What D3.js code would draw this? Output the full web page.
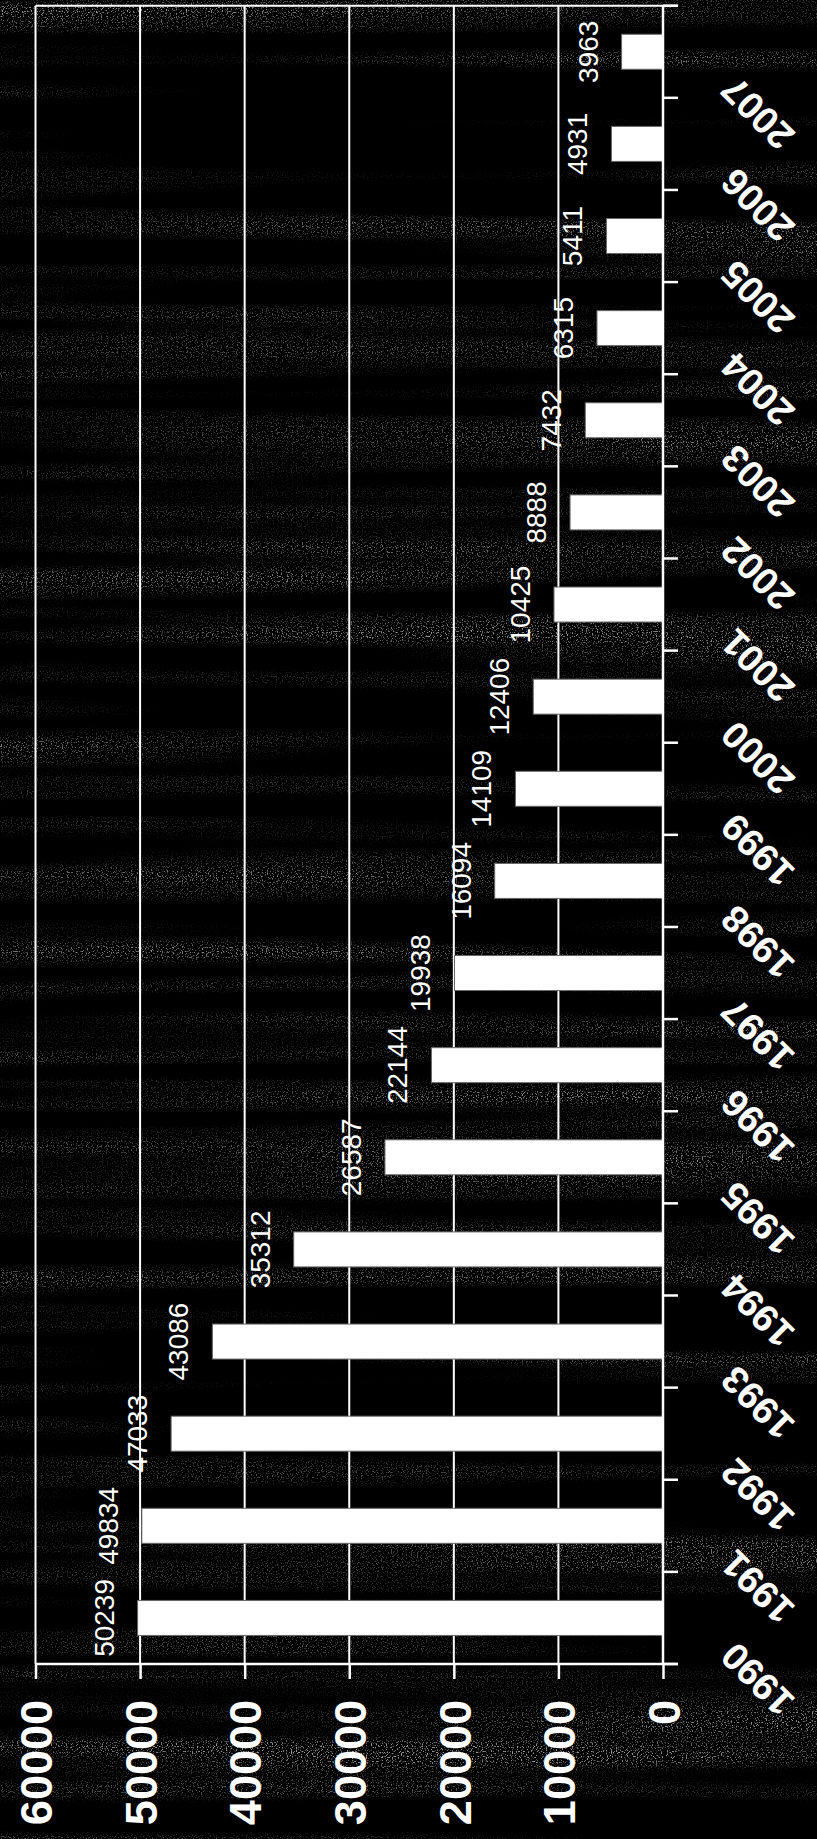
<html>
	<head>
		<script type="text/javascript" src="https://cdn.jsdelivr.net/npm/d3@7/dist/d3.min.js"></script>
		<style>
			body{
				margin:0;
				background:#000;
			}
			svg{
				display:block;
				font-family:"Liberation Sans", Arial, sans-serif;
			}
			.grid line{
				stroke:#fff;
				stroke-width:2;
			}
			.bar{
				fill:#fff;
				stroke:#666;
				stroke-width:1;
			}
			.val{
				fill:#fff;
				font-size:28px;
			}
			.axis path, .axis line{
				stroke:#fff;
				stroke-width:2.5;
			}
			.axis text{
				fill:#fff;
				font-weight:bold;
			}
		</style>
	</head>
	<body>
		<div id="container"></div>
		<script type="text/javascript">

			var years = ["1990","1991","1992","1993","1994","1995","1996","1997","1998",
				"1999","2000","2001","2002","2003","2004","2005","2006","2007"];
			var values = [50239, 49834, 47033, 43086, 35312, 26587, 22144, 19938, 16094,
				14109, 12406, 10425, 8888, 7432, 6315, 5411, 4931, 3963];
			var valueTicks = [0, 10000, 20000, 30000, 40000, 50000, 60000];

			var data = years.map(function(d, i){ return {year:d, value:values[i]}; });

			var svg = d3.select("#container")
				.append("svg")
					.attr("width", 817)
					.attr("height", 1839);

			// speckled scan background
			var defs = svg.append("defs");
			var f = defs.append("filter")
				.attr("id", "grain")
				.attr("x", 0).attr("y", 0).attr("width", 1).attr("height", 1)
				.attr("color-interpolation-filters", "sRGB");
			f.append("feTurbulence")
				.attr("type", "fractalNoise")
				.attr("baseFrequency", "0.0008 0.03")
				.attr("numOctaves", 2)
				.attr("seed", 4)
				.attr("result", "bandNoise");
			f.append("feColorMatrix")
				.attr("in", "bandNoise")
				.attr("type", "matrix")
				.attr("values", "0 0 0 0 1  0 0 0 0 1  0 0 0 0 1  3 0 0 0 -1.35")
				.attr("result", "band");
			f.append("feTurbulence")
				.attr("type", "fractalNoise")
				.attr("baseFrequency", "0.8")
				.attr("numOctaves", 1)
				.attr("seed", 9)
				.attr("result", "dotNoise");
			f.append("feColorMatrix")
				.attr("in", "dotNoise")
				.attr("type", "matrix")
				.attr("values", "0 0 0 0 1  0 0 0 0 1  0 0 0 0 1  8 0 0 0 -4.4")
				.attr("result", "dots");
			f.append("feComposite")
				.attr("in", "dots")
				.attr("in2", "band")
				.attr("operator", "arithmetic")
				.attr("k1", 1);

			svg.append("rect")
				.attr("width", 817)
				.attr("height", 1839)
				.attr("fill", "#000");
			svg.append("rect")
				.attr("width", 817)
				.attr("height", 1839)
				.attr("fill", "#fff")
				.attr("opacity", 0.6)
				.attr("filter", "url(#grain)");

			var plotTop = 5.7, plotBottom = 1664, plotLeft = 35.5, plotRight = 663;

			var x = d3.scaleLinear()
				.domain([0, 60000])
				.range([plotRight, plotLeft]);

			var y = d3.scaleBand()
				.domain(years)
				.range([plotBottom, plotTop])
				.paddingInner(0.62)
				.paddingOuter(0.31);

			var grid = svg.append("g").attr("class", "grid");
			grid.selectAll("line.v").data(valueTicks.slice(1)).enter().append("line")
				.attr("class", "v")
				.attr("x1", function(d){ return x(d); })
				.attr("x2", function(d){ return x(d); })
				.attr("y1", plotTop)
				.attr("y2", plotBottom);
			grid.append("line")
				.attr("x1", plotLeft).attr("x2", plotRight + 15)
				.attr("y1", plotTop).attr("y2", plotTop);

			svg.selectAll("rect.bar").data(data).enter().append("rect")
				.attr("class", "bar")
				.attr("x", function(d){ return x(d.value); })
				.attr("y", function(d){ return y(d.year); })
				.attr("width", function(d){ return x(0) - x(d.value); })
				.attr("height", y.bandwidth());

			svg.selectAll("text.val").data(data).enter().append("text")
				.attr("class", "val")
				.attr("text-anchor", "middle")
				.attr("transform", function(d){
					return "translate(" + (x(d.value) - 24) + "," + (y(d.year) + y.bandwidth()/2) + ") rotate(-90)";
				})
				.text(function(d){ return d.value; });

			// value axis along the bottom
			var xAxis = d3.axisBottom(x)
				.tickValues(valueTicks)
				.tickSize(15)
				.tickSizeOuter(0)
				.tickFormat(d3.format("d"));

			var gx = svg.append("g")
				.attr("class", "axis")
				.attr("transform", "translate(0," + plotBottom + ")")
				.call(xAxis);
			gx.select(".domain").attr("d", "M" + plotLeft + ",0H" + (plotRight + 15));
			gx.selectAll("text")
				.attr("x", null)
				.attr("y", null)
				.attr("dy", "0.36em")
				.attr("text-anchor", "end")
				.style("font-size", "45px")
				.attr("transform", "translate(0,36) rotate(-90)");

			// category axis on the right, ticks between the bands
			var step = y.step();
			var bounds = years.map(function(d){ return y(d) + y.bandwidth()/2 + step/2; });
			bounds.push(y(years[years.length-1]) + y.bandwidth()/2 - step/2);

			var gy = svg.append("g")
				.attr("class", "axis")
				.attr("transform", "translate(" + plotRight + ",0)");
			gy.append("path")
				.attr("d", "M0," + plotTop + "V" + plotBottom);
			gy.selectAll("line").data(bounds).enter().append("line")
				.attr("x1", 0).attr("x2", 15)
				.attr("y1", function(d){ return d; })
				.attr("y2", function(d){ return d; });
			gy.selectAll("text").data(years).enter().append("text")
				.attr("text-anchor", "end")
				.style("font-size", "38px")
				.attr("transform", function(d){
					return "translate(74," + (y(d) + y.bandwidth()/2 + 22) + ") rotate(-135)";
				})
				.text(function(d){ return d; });

		</script>
	</body>
</html>
